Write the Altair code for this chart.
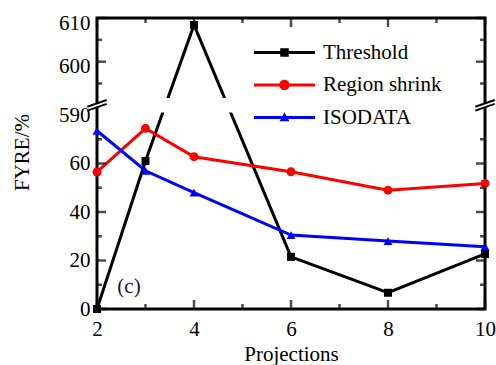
import altair as alt
import pandas as pd

# ---------------- data ----------------
projections = [2, 3, 4, 6, 8, 10]
threshold = [0, 61, 608.4, 21.5, 6.7, 22.7]
region_shrink = [56.5, 74.5, 62.8, 56.6, 49, 51.8]
isodata = [73.5, 57, 48, 30.5, 28, 25.7]

series_names = ["Threshold", "Region shrink", "ISODATA"]
series_colors = ["#000000", "#ff0000", "#0000ff"]
series_shapes = ["square", "circle", "triangle-up"]
series_sizes = [64, 80, 80]

x_major = [2, 4, 6, 8, 10]
x_minor = [3, 5, 7, 9]
y_major = [0, 20, 40, 60, 600, 610]
y_minor = [10, 30, 50, 70, 595, 605]
panel_label = "(c)"

# broken y axis: lower part 0..80 as is, upper part starts at 590 (display 84), stretched
BREAK_START = 590
BREAK_AT = 84
UPPER_STRETCH = 1.8
LABEL_590_POS = 80


def to_display(v):
    return v if v < BREAK_START else round(BREAK_AT + (v - BREAK_START) * UPPER_STRETCH, 6)


FONT = "Liberation Serif"
FS = 21
W, H = 388, 291
X_MIN, X_MAX, Y_MIN, Y_MAX = 2, 10, 0, 120

df = pd.DataFrame({
    "x": projections * 3,
    "v": threshold + region_shrink + isodata,
    "series": [n for n in series_names for _ in projections],
})

X_SCALE = alt.Scale(domain=[X_MIN, X_MAX], nice=False, zero=False)
Y_SCALE = alt.Scale(domain=[Y_MIN, Y_MAX], nice=False, zero=False)
color_scale = alt.Scale(domain=series_names, range=series_colors)

y_major_pos = [to_display(v) for v in y_major]
y_minor_pos = [to_display(v) for v in y_minor]
label_map = {to_display(v): str(v) for v in y_major}
label_map[LABEL_590_POS] = "590"
y_label_values = sorted(label_map.keys())
y_label_expr = " : ".join(f"datum.value == {p} ? '{t}'" for p, t in label_map.items()) + " : ''"

common = dict(
    domain=False, ticks=False, grid=False,
    labelFont=FONT, labelFontSize=FS, labelColor="black",
    labelFlush=False, labelOverlap=False, titleFont=FONT, titleFontSize=FS,
    titleFontWeight="normal", titleColor="black",
)

bottom_axis = alt.Axis(
    orient="bottom", values=x_major, title="Projections",
    labelPadding=9, titleY=34, titleBaseline="top", **common,
)
left_axis = alt.Axis(
    orient="left", values=y_label_values, title="FYRE/%",
    labelExpr=y_label_expr, labelPadding=7,
    labelOffset={"condition": {"test": "datum.value >= 100", "value": 5}, "value": 0},
    titleX=-65, titleY=134, **common,
)

base = alt.Chart(df).transform_calculate(
    d=f"datum.v >= {BREAK_START} ? {BREAK_AT} + (datum.v - {BREAK_START}) * {UPPER_STRETCH} : datum.v"
)

# legend carrier (first layer so its legend / axis settings win): symbols = line + marker
t = 0.05
legend_paths = [
    f"M-1,-{t}H1V{t}H-1Z M-0.14,-0.14H0.14V0.14H-0.14Z",
    f"M-1,-{t}H1V{t}H-1Z M-0.17,0A0.17,0.17 0 1,1 0.17,0A0.17,0.17 0 1,1 -0.17,0Z",
    f"M-1,-{t}H1V{t}H-1Z M0,-0.17L0.16,0.12H-0.16Z",
]
leg = alt.Legend(
    orient="none", legendX=157, legendY=24, title=None,
    labelFont=FONT, labelFontSize=FS, labelColor="black",
    symbolSize=3721, symbolStrokeWidth=0, labelOffset=8,
    rowPadding=10.5, padding=0, clipHeight=21,
)
carrier = base.transform_filter(alt.datum.x == 2).transform_calculate(off="-50").mark_point(
    filled=True, size=3721, opacity=1, clip=True
).encode(
    x=alt.X("x:Q", scale=X_SCALE, axis=bottom_axis),
    y=alt.Y("off:Q", scale=Y_SCALE, axis=left_axis),
    color=alt.Color("series:N", scale=color_scale, legend=leg),
    shape=alt.Shape("series:N", scale=alt.Scale(domain=series_names, range=legend_paths), legend=leg),
)

lines = base.mark_line(strokeWidth=3).encode(
    x=alt.X("x:Q", scale=X_SCALE),
    y=alt.Y("d:Q", scale=Y_SCALE),
    color=alt.Color("series:N", scale=color_scale, legend=None),
)

# white gap across the axis break
band = alt.Chart(pd.DataFrame({"a": [2.04], "b": [9.96], "c": [81], "e": [87]})).mark_rect(
    color="white"
).encode(
    x=alt.X("a:Q", scale=X_SCALE), x2="b:Q",
    y=alt.Y("c:Q", scale=Y_SCALE), y2="e:Q",
)

point_layers = []
for name, shape, size in zip(series_names, series_shapes, series_sizes):
    point_layers.append(
        base.transform_filter(alt.datum.series == name).mark_point(
            shape=shape, filled=True, size=size, opacity=1
        ).encode(
            x=alt.X("x:Q", scale=X_SCALE),
            y=alt.Y("d:Q", scale=Y_SCALE),
            color=alt.Color("series:N", scale=color_scale, legend=None),
        )
    )

text = alt.Chart(pd.DataFrame({"x": [2.66], "y": [9], "t": [panel_label]})).mark_text(
    font=FONT, fontSize=FS, color="#14143a"
).encode(
    x=alt.X("x:Q", scale=X_SCALE),
    y=alt.Y("y:Q", scale=Y_SCALE),
    text="t:N",
)


# inward tick marks on all four sides of the frame
def ticks_layer(values, length, side):
    if side in ("left", "right"):
        edge = X_MIN if side == "left" else X_MAX
        sgn = 1 if side == "left" else -1
        d = pd.DataFrame({"a": [edge] * len(values), "p": values})
        return alt.Chart(d).mark_tick(
            orient="horizontal", size=length, thickness=2.5, color="black", xOffset=sgn * length / 2
        ).encode(x=alt.X("a:Q", scale=X_SCALE), y=alt.Y("p:Q", scale=Y_SCALE))
    edge = Y_MIN if side == "bottom" else Y_MAX
    sgn = -1 if side == "bottom" else 1
    d = pd.DataFrame({"p": values, "a": [edge] * len(values)})
    return alt.Chart(d).mark_tick(
        orient="vertical", size=length, thickness=2.5, color="black", yOffset=sgn * length / 2
    ).encode(x=alt.X("p:Q", scale=X_SCALE), y=alt.Y("a:Q", scale=Y_SCALE))


tick_layers = []
for side in ("left", "right"):
    tick_layers.append(ticks_layer(y_major_pos, 9, side))
    tick_layers.append(ticks_layer(y_minor_pos, 5, side))
for side in ("bottom", "top"):
    tick_layers.append(ticks_layer(x_major, 9, side))
    tick_layers.append(ticks_layer(x_minor, 5, side))

# axis-break symbols (two slanted strokes on each side)
brk_rows = []
for xs in [X_MIN, X_MAX]:
    for off in (-0.8, 0.8):
        brk_rows.append({"a": xs - 0.2, "b": xs + 0.2, "c": BREAK_AT + off - 1.4, "e": BREAK_AT + off + 1.4})
brk_df = pd.DataFrame(brk_rows)
brk_fill_df = pd.DataFrame([
    {"a": xs - 0.2, "b": xs + 0.2, "c": BREAK_AT - 1.4, "e": BREAK_AT + 1.4} for xs in [X_MIN, X_MAX]
])
brk_fill = alt.Chart(brk_fill_df).mark_rule(color="white", strokeWidth=4).encode(
    x=alt.X("a:Q", scale=X_SCALE), x2="b:Q",
    y=alt.Y("c:Q", scale=Y_SCALE), y2="e:Q",
)
brk = alt.Chart(brk_df).mark_rule(color="black", strokeWidth=2).encode(
    x=alt.X("a:Q", scale=X_SCALE), x2="b:Q",
    y=alt.Y("c:Q", scale=Y_SCALE), y2="e:Q",
)

chart = alt.layer(
    carrier, lines, band, *point_layers, text, *tick_layers, brk_fill, brk
).properties(
    width=W, height=H,
    autosize=alt.AutoSizeParams(type="none"),
    padding={"left": 97, "top": 18, "right": 11, "bottom": 56},
    background="white",
).configure_view(stroke="black", strokeWidth=3)

chart.save("out.html", embed_options={"renderer": "svg", "actions": False})
